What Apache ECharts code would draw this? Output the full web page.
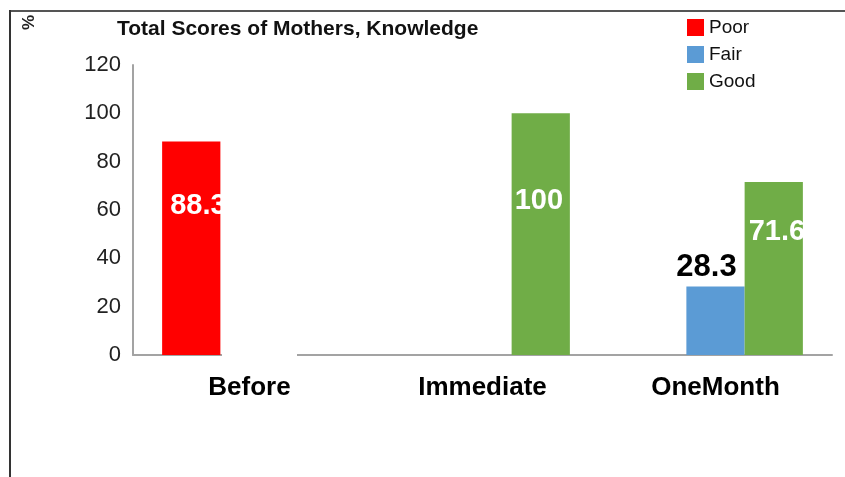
<!DOCTYPE html>
<html>

<head>
    <meta charset="utf-8">
    <title>Total Scores of Mothers, Knowledge</title>
    <script src="https://cdn.jsdelivr.net/npm/echarts@6/dist/echarts.min.js"></script>
    <style>
        html, body { margin: 0; padding: 0; background: #fff; }
        #main { width: 845px; height: 477px; }
    </style>
</head>

<body>
    <div id="main"></div>
    <script type="text/javascript">
        // data
        var categories = ['Before', 'Immediate', 'OneMonth'];
        var poor = [88.3, null, null];
        var fair = [null, null, 28.3];
        var good = [null, 100, 71.6];
        var yTicks = [0, 20, 40, 60, 80, 100, 120];

        var font = 'Liberation Sans';

        // where the white value text sits inside a bar: [dx from bar left, dy from bar top]
        function inside(values, spots) {
            return values.map(function (v, i) {
                if (v == null) return '-';
                return {
                    value: v,
                    label: { show: true, position: spots[i], verticalAlign: 'middle', align: 'left' }
                };
            });
        }

        var myChart = echarts.init(document.getElementById('main'));
        var option = {
            animation: false,
            backgroundColor: '#fff',
            textStyle: { fontFamily: font },
            grid: { left: 133, top: 65, width: 699, height: 290 },
            legend: {
                orient: 'vertical',
                left: 687,
                top: 17,
                padding: 0,
                itemWidth: 17,
                itemHeight: 17,
                itemGap: 6,
                icon: 'rect',
                textStyle: { fontSize: 19, color: '#111', lineHeight: 21 },
                data: ['Poor', 'Fair', 'Good']
            },
            xAxis: {
                type: 'category',
                data: categories,
                axisLine: { lineStyle: { color: '#a3a3a3', width: 2 } },
                axisTick: { show: false },
                axisLabel: { fontSize: 26, fontWeight: 'bold', color: '#000', margin: 20 }
            },
            yAxis: {
                type: 'value',
                min: yTicks[0],
                max: yTicks[yTicks.length - 1],
                interval: yTicks[1] - yTicks[0],
                axisLine: { show: true, lineStyle: { color: '#a3a3a3', width: 2 } },
                axisTick: { show: false },
                splitLine: { show: false },
                axisLabel: { fontSize: 22, color: '#222', margin: 12 }
            },
            series: [
                {
                    name: 'Poor',
                    type: 'bar',
                    barGap: '0%',
                    barCategoryGap: '25%',
                    itemStyle: { color: '#ff0000' },
                    label: { color: '#fff', fontSize: 29, fontWeight: 'bold' },
                    data: inside(poor, [[8, 64], null, null])
                },
                {
                    name: 'Fair',
                    type: 'bar',
                    itemStyle: { color: '#5b9bd5' },
                    label: {
                        show: true, position: 'top', distance: 4, offset: [-9, 0],
                        color: '#000', fontSize: 31, fontWeight: 'bold',
                        formatter: function (p) { return p.value == null ? '' : p.value; }
                    },
                    data: fair.map(function (v) { return v == null ? '-' : v; })
                },
                {
                    name: 'Good',
                    type: 'bar',
                    itemStyle: { color: '#70ad47' },
                    label: { color: '#fff', fontSize: 29, fontWeight: 'bold' },
                    data: inside(good, [null, [3, 88], [4, 50]])
                }
            ],
            graphic: [
                // gap in the category axis after the first bar
                { type: 'rect', z: 100, shape: { x: 222, y: 318, width: 75, height: 42 }, style: { fill: '#fff' } },
                // outer frame
                { type: 'line', z: 100, shape: { x1: 10, y1: 11, x2: 845, y2: 11 }, style: { stroke: '#555', lineWidth: 2 } },
                { type: 'line', z: 100, shape: { x1: 10, y1: 10, x2: 10, y2: 477 }, style: { stroke: '#333', lineWidth: 2 } },
                {
                    type: 'text', z: 100, x: 21, y: 30, rotation: Math.PI / 2,
                    style: { text: '%', fontFamily: font, fontSize: 17, fontWeight: 'bold', fill: '#222' }
                },
                {
                    type: 'text', z: 100, left: 117, top: 19,
                    style: { text: 'Total Scores of Mothers, Knowledge', fontFamily: font, fontSize: 21, fontWeight: 'bold', fill: '#111' }
                }
            ]
        };
        myChart.setOption(option);
    </script>
</body>

</html>
